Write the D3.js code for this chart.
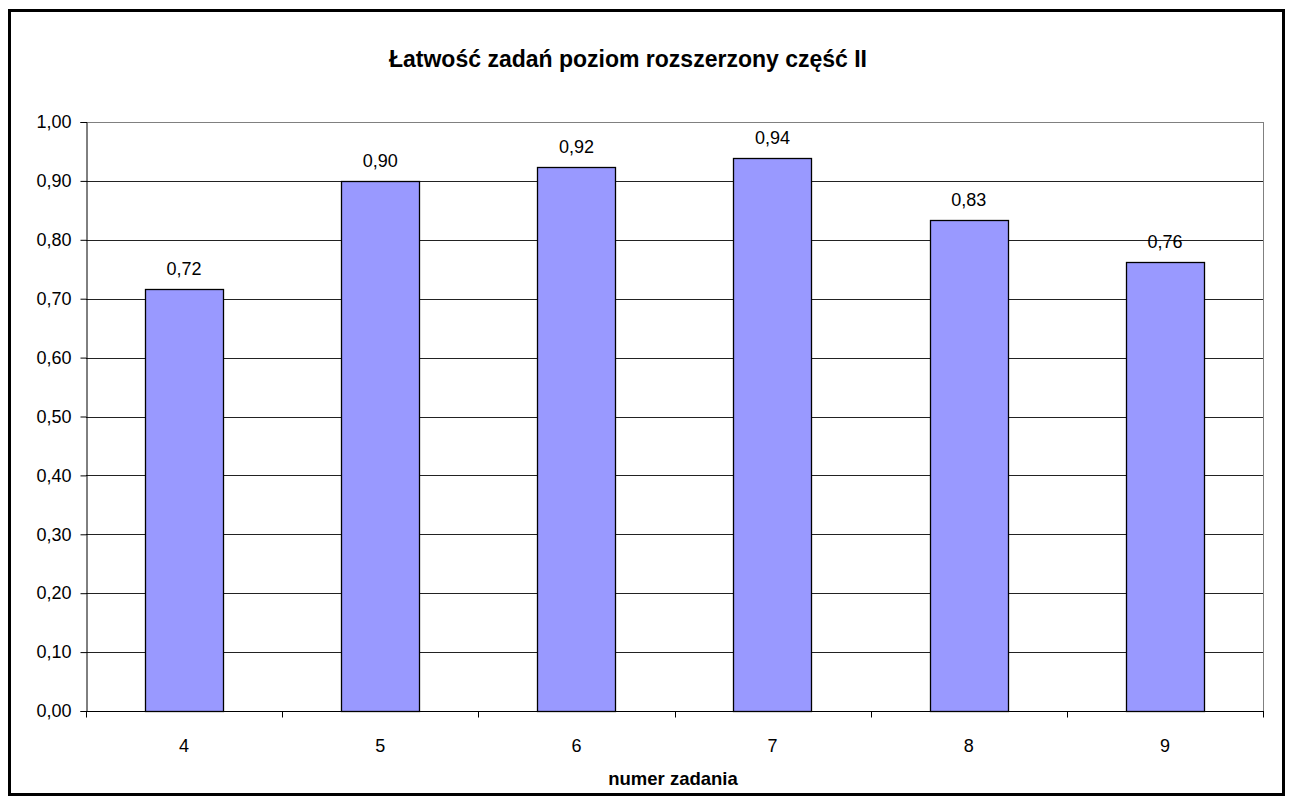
<!DOCTYPE html>
<html>
<head>
<meta charset="utf-8">
<script src="https://cdn.jsdelivr.net/npm/d3@7"></script>
<style>
  body { margin: 0; background: #fff; }
  text { font-family: Arial, "Liberation Sans", sans-serif; fill: #000; }
</style>
</head>
<body>
<div id="chartArea"></div>
<script>
// categories and values
var zadania = ["4", "5", "6", "7", "8", "9"];
var latwosc = [0.7165, 0.9003, 0.924, 0.9394, 0.8336, 0.7628];
var yTicks = [0, 0.1, 0.2, 0.3, 0.4, 0.5, 0.6, 0.7, 0.8, 0.9, 1.0];

var W = 1294, H = 803;
var pLeft = 86, pRight = 1263, pTop = 122, pBottom = 711;

var svg = d3.select("#chartArea").append("svg")
    .attr("width", W)
    .attr("height", H);

// outer frame
svg.append("rect")
    .attr("x", 9.5).attr("y", 10.5)
    .attr("width", 1274).attr("height", 784)
    .attr("fill", "#fff")
    .attr("stroke", "#000")
    .attr("stroke-width", 3);

var x = d3.scaleBand().domain(zadania).range([pLeft, pRight]).padding(0);
var y = d3.scaleLinear().domain([0, 1]).range([pBottom, pTop]);

var fmt = function(v) { return d3.format(".2f")(v).replace(".", ","); };

// gridlines
svg.append("g").selectAll("line")
    .data(yTicks.filter(function(d) { return d > 0; }))
    .enter().append("line")
    .attr("x1", pLeft).attr("x2", pRight)
    .attr("y1", function(d) { return Math.round(y(d)) + 0.5; })
    .attr("y2", function(d) { return Math.round(y(d)) + 0.5; })
    .attr("stroke", function(d) { return d === 1 ? "#808080" : "#222"; })
    .attr("stroke-width", 1);

// plot right border
svg.append("line")
    .attr("x1", pRight + 0.5).attr("x2", pRight + 0.5)
    .attr("y1", pTop).attr("y2", pBottom)
    .attr("stroke", "#808080");

// bars
var bw = x.bandwidth() * 0.4;
svg.selectAll(".bar")
    .data(latwosc)
    .enter().append("rect")
    .attr("class", "bar")
    .attr("x", function(d, i) { return Math.round(x(zadania[i]) + (x.bandwidth() - bw) / 2) + 0.5; })
    .attr("width", Math.round(bw))
    .attr("y", function(d) { return Math.round(y(d)) + 0.5; })
    .attr("height", function(d) { return Math.round(pBottom - y(d)); })
    .attr("fill", "#9999ff")
    .attr("stroke", "#000")
    .attr("stroke-width", 1.3);

// value labels
svg.selectAll(".val")
    .data(latwosc)
    .enter().append("text")
    .attr("class", "val")
    .attr("x", function(d, i) { return x(zadania[i]) + x.bandwidth() / 2; })
    .attr("y", function(d) { return y(d) - 14; })
    .attr("text-anchor", "middle")
    .attr("font-size", "18px")
    .text(function(d) { return fmt(d); });

// y axis
var yAxis = svg.append("g")
    .attr("transform", "translate(" + (pLeft + 0.5) + ",0)")
    .call(d3.axisLeft(y).tickValues(yTicks).tickSize(6).tickPadding(9).tickFormat(fmt));
yAxis.select(".domain").attr("stroke", "#000");
yAxis.selectAll("text").attr("font-size", "18px").attr("font-family", "Arial, 'Liberation Sans', sans-serif");

// x axis: ticks at category boundaries
var xAxis = svg.append("g")
    .attr("transform", "translate(0," + (pBottom + 0.5) + ")");
xAxis.append("line")
    .attr("x1", pLeft).attr("x2", pRight + 1)
    .attr("stroke", "#000");
xAxis.selectAll(".tk")
    .data(zadania.concat(["end"]))
    .enter().append("line")
    .attr("x1", function(d, i) { return Math.round(pLeft + i * x.bandwidth()) + 0.5; })
    .attr("x2", function(d, i) { return Math.round(pLeft + i * x.bandwidth()) + 0.5; })
    .attr("y1", 0).attr("y2", 6)
    .attr("stroke", "#000");
xAxis.selectAll(".lbl")
    .data(zadania)
    .enter().append("text")
    .attr("x", function(d) { return x(d) + x.bandwidth() / 2; })
    .attr("y", 40)
    .attr("text-anchor", "middle")
    .attr("font-size", "18px")
    .text(function(d) { return d; });

// titles
svg.append("text")
    .attr("x", 628).attr("y", 67)
    .attr("text-anchor", "middle")
    .attr("font-size", "23px")
    .attr("font-weight", "bold")
    .text("Łatwość zadań poziom rozszerzony część II");

svg.append("text")
    .attr("x", 673).attr("y", 785)
    .attr("text-anchor", "middle")
    .attr("font-size", "18.5px")
    .attr("font-weight", "bold")
    .text("numer zadania");
</script>
</body>
</html>
